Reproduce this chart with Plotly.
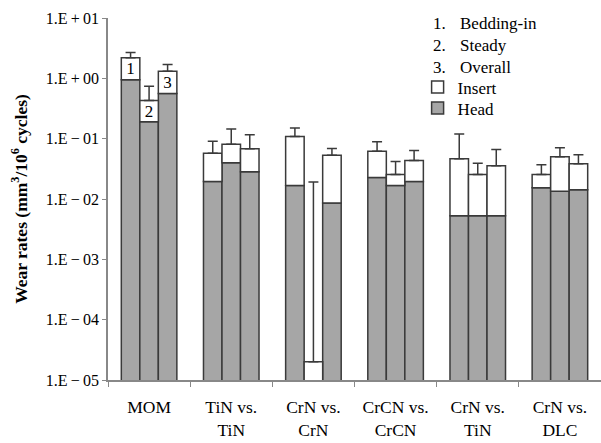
import plotly.graph_objects as go

categories = ["MOM", "TiN vs.<br>TiN", "CrN vs.<br>CrN", "CrCN vs.<br>CrCN", "CrN vs.<br>TiN", "CrN vs.<br>DLC"]
period_labels = ["1", "2", "3"]

# head wear rate (grey), total = head + insert (top of white part), error top
head = {
    "1": [0.95, 0.0195, 0.0167, 0.0227, 0.0053, 0.0153],
    "2": [0.19, 0.0398, 1e-6, 0.0167, 0.0053, 0.0134],
    "3": [0.56, 0.0282, 0.0086, 0.0195, 0.0053, 0.0143],
}
total = {
    "1": [2.2, 0.0574, 0.109, 0.062, 0.0463, 0.0254],
    "2": [0.43, 0.081, 2.0e-5, 0.0254, 0.0254, 0.050],
    "3": [1.31, 0.068, 0.0532, 0.0434, 0.0355, 0.0383],
}
err_top = {
    "1": [2.67, 0.091, 0.150, 0.0888, 0.120, 0.0368],
    "2": [0.74, 0.144, 0.0192, 0.0418, 0.039, 0.0706],
    "3": [1.69, 0.116, 0.0687, 0.0637, 0.066, 0.054],
}

y_tickvals = [1e-5, 1e-4, 1e-3, 1e-2, 1e-1, 1e0, 1e1]
y_ticktext = ["1.E\u2009\u2212\u200905", "1.E\u2009\u2212\u200904", "1.E\u2009\u2212\u200903",
              "1.E\u2009\u2212\u200902", "1.E\u2009\u2212\u200901", "1.E\u2009+\u200900", "1.E\u2009+\u200901"]

HEAD_COLOR = "#a6a6a6"
EDGE = "#3a3a3a"
FONT = "Liberation Serif"

fig = go.Figure()

for k, p in enumerate(period_labels):
    fig.add_trace(go.Bar(
        x=categories, y=head[p], offsetgroup=p, name="Head",
        marker=dict(color=HEAD_COLOR, line=dict(color=EDGE, width=1.5)),
        showlegend=(k == 0), legend="legend2",
    ))

for k, p in enumerate(period_labels):
    ins = [t - h for t, h in zip(total[p], head[p])]
    err = [e - t for e, t in zip(err_top[p], total[p])]
    txt = [p] + [""] * (len(categories) - 1)
    fig.add_trace(go.Bar(
        x=categories, y=ins, base=head[p], offsetgroup=p, name="Insert",
        marker=dict(color="white", line=dict(color=EDGE, width=1.5)),
        error_y=dict(type="data", array=err, arrayminus=[0] * len(err), symmetric=False,
                     color=EDGE, thickness=1.5, width=5),
        text=txt, textposition="inside", insidetextanchor="middle", textangle=0,
        constraintext="none", insidetextfont=dict(family=FONT, size=17, color="black"),
        showlegend=(k == 0), legend="legend",
    ))

leg_common = dict(xanchor="left", yanchor="top", bgcolor="rgba(0,0,0,0)",
                  font=dict(family=FONT, size=17), itemwidth=30)

fig.update_layout(
    width=601, height=443,
    margin=dict(l=108, r=0, t=18, b=63),
    barmode="group", bargap=0.324, bargroupgap=0,
    plot_bgcolor="white", paper_bgcolor="white",
    font=dict(family=FONT, size=16, color="black"),
    legend=dict(x=0.628, y=0.858, **leg_common),
    legend2=dict(x=0.628, y=0.800, **leg_common),
    annotations=[
        dict(xref="paper", yref="paper", x=0.655, y=0.925, xanchor="left", yanchor="middle",
             text="1.<br>2.<br>3.", showarrow=False, align="left",
             font=dict(family=FONT, size=17)),
        dict(xref="paper", yref="paper", x=0.71, y=0.925, xanchor="left", yanchor="middle",
             text="Bedding-in<br>Steady<br>Overall", showarrow=False, align="left",
             font=dict(family=FONT, size=17)),
    ],
)

fig.update_yaxes(
    type="log", range=[-5, 1], tickvals=y_tickvals, ticktext=y_ticktext,
    ticks="outside", ticklen=4, tickcolor="#888", showline=True, linecolor="#888", linewidth=1.5,
    showgrid=False, zeroline=False, tickfont=dict(family=FONT, size=16),
    title=dict(text="<b>Wear rates (mm<sup>3</sup>/10<sup>6</sup> cycles)</b>",
               font=dict(family=FONT, size=17.5), standoff=14),
)
fig.update_xaxes(
    ticks="outside", tickson="boundaries", ticklen=5, tickcolor="#888",
    showline=True, linecolor="#888", linewidth=1.5, showgrid=False,
    tickfont=dict(family=FONT, size=17.5), ticklabelstandoff=10,
)

fig.write_html("out.html")
